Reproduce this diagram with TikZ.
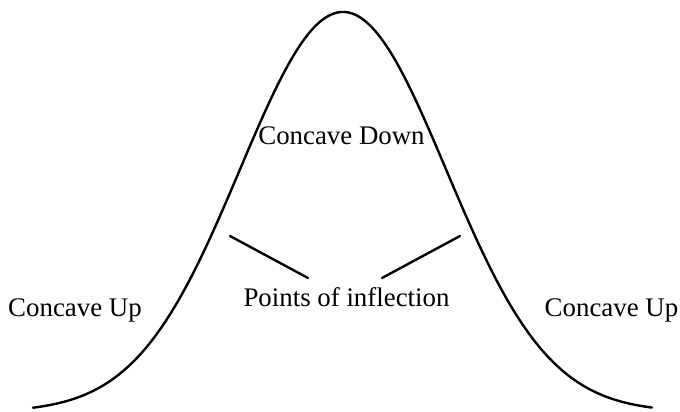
\documentclass[tikz,border=0pt]{standalone}
\usepackage{fontspec}
\setmainfont{Liberation Serif}
\usetikzlibrary{positioning}
\begin{document}
\begin{tikzpicture}[x=0.025cm,y=-0.025cm,
    lbl/.style={font=\fontsize{19.1}{23}\selectfont,inner sep=0pt,anchor=base},
    thick line/.style={line width=1.7pt,line cap=round}]
  \useasboundingbox (0,0) rectangle (680,412);
  % bell curve
  \draw[thick line] plot[domain=33:652,samples=160,smooth]
    (\x,{412-400*exp(-0.5*((\x-343)/103)^2)});
  \node[lbl] (down) at (341.5,145) {Concave Down};
  \node[lbl] (upL) at (75,317) {Concave Up};
  \node[lbl] (upR) at (611.5,317) {Concave Up};
  \node[lbl] (poi) at (346.5,307) {Points of inflection};
  % pointers to the inflection points
  \coordinate (ipL) at (230,236);
  \coordinate (ipR) at (460,236);
  \coordinate (tipL) at (308,278);
  \coordinate (tipR) at (382,278);
  \draw[thick line] (ipL) -- (tipL);
  \draw[thick line] (ipR) -- (tipR);
\end{tikzpicture}
\end{document}
